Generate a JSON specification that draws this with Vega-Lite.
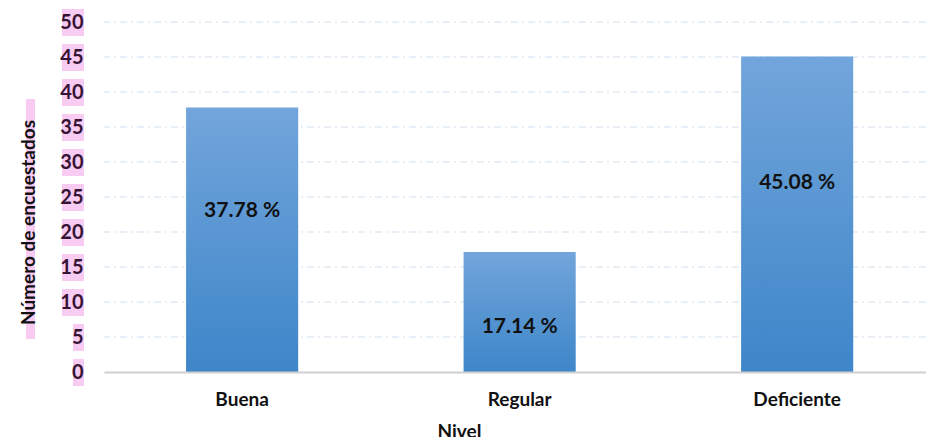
{
  "$schema": "https://vega.github.io/schema/vega-lite/v6.json",
  "width": 822,
  "height": 350,
  "autosize": {"type": "none"},
  "padding": {"left": 104, "top": 22, "right": 0, "bottom": 65},
  "background": "white",
  "config": {
    "view": {"stroke": null},
    "font": "Lato"
  },
  "datasets": {
    "bars": [
      {"nivel": "Buena", "valor": 37.78, "etiqueta": "37.78 %", "label_at": 23.0},
      {"nivel": "Regular", "valor": 17.14, "etiqueta": "17.14 %", "label_at": 6.4},
      {"nivel": "Deficiente", "valor": 45.08, "etiqueta": "45.08 %", "label_at": 27.0}
    ],
    "ticks": [
      {"t": 0}, {"t": 5}, {"t": 10}, {"t": 15}, {"t": 20}, {"t": 25},
      {"t": 30}, {"t": 35}, {"t": 40}, {"t": 45}, {"t": 50}
    ]
  },
  "layer": [
    {
      "data": {"name": "ticks"},
      "transform": [{"filter": "datum.t > 0"}],
      "mark": {"type": "rule", "color": "#cfdff0", "strokeWidth": 1, "strokeDash": [7, 4, 2, 4]},
      "encoding": {
        "y": {
          "field": "t",
          "type": "quantitative",
          "scale": {"domain": [0, 50], "nice": false},
          "axis": {
            "title": "Número de encuestados",
            "values": [0, 5, 10, 15, 20, 25, 30, 35, 40, 45, 50],
            "tickCount": 20,
            "labelOverlap": false,
            "zindex": 1,
            "domain": false,
            "ticks": false,
            "grid": false,
            "labelFont": "Lato",
            "labelFontSize": 20,
            "labelFontWeight": "bold",
            "labelColor": "#351433",
            "labelPadding": 21,
            "titleFont": "Lato",
            "titleFontSize": 19,
            "titleFontWeight": "bold",
            "titleColor": "#111111",
            "titleAngle": -90,
            "titleX": -70,
            "titleY": 200,
            "titleAlign": "center",
            "titleBaseline": "alphabetic"
          }
        }
      }
    },
    {
      "data": {"name": "ticks"},
      "transform": [{"filter": "datum.t >= 10"}],
      "mark": {"type": "rect", "color": "#f8cbf3", "yOffset": -13, "y2Offset": 14, "clip": false},
      "encoding": {
        "y": {"field": "t", "type": "quantitative"},
        "y2": {"field": "t"},
        "x": {"value": -42},
        "x2": {"value": -20}
      }
    },
    {
      "data": {"name": "ticks"},
      "transform": [{"filter": "datum.t < 10"}],
      "mark": {"type": "rect", "color": "#f8cbf3", "yOffset": -13, "y2Offset": 14, "clip": false},
      "encoding": {
        "y": {"field": "t", "type": "quantitative"},
        "y2": {"field": "t"},
        "x": {"value": -31},
        "x2": {"value": -20}
      }
    },
    {
      "data": {"values": [{"a": 39.0, "b": 4.7}]},
      "mark": {"type": "rect", "color": "#f8cbf3", "clip": false},
      "encoding": {
        "y": {"field": "a", "type": "quantitative"},
        "y2": {"field": "b"},
        "x": {"value": -78},
        "x2": {"value": -69}
      }
    },
    {
      "data": {"name": "bars"},
      "mark": {
        "type": "bar",
        "color": {
          "x1": 0, "y1": 0, "x2": 0, "y2": 1,
          "gradient": "linear",
          "stops": [
            {"offset": 0, "color": "#72a5db"},
            {"offset": 1, "color": "#3e86c9"}
          ]
        }
      },
      "encoding": {
        "x": {
          "field": "nivel",
          "type": "nominal",
          "sort": ["Buena", "Regular", "Deficiente"],
          "scale": {"paddingInner": 0.596, "paddingOuter": 0.279, "align": 0.53},
          "axis": {
            "title": "Nivel",
            "labelAngle": 0,
            "labelFont": "Lato",
            "labelFontSize": 19,
            "labelFontWeight": "bold",
            "labelColor": "#111111",
            "labelPadding": 18,
            "ticks": false,
            "domainColor": "#d0d0d0",
            "domainWidth": 2,
            "zindex": 1,
            "titleFont": "Lato",
            "titleFontSize": 19,
            "titleFontWeight": "bold",
            "titleColor": "#111111",
            "titleX": 355,
            "titleY": 65,
            "titleBaseline": "alphabetic"
          }
        },
        "y": {"field": "valor", "type": "quantitative"}
      }
    },
    {
      "data": {"name": "bars"},
      "mark": {"type": "text", "font": "Lato", "fontSize": 21, "fontWeight": "bold", "color": "#111111", "baseline": "middle"},
      "encoding": {
        "x": {"field": "nivel", "type": "nominal", "sort": ["Buena", "Regular", "Deficiente"]},
        "y": {"field": "label_at", "type": "quantitative"},
        "text": {"field": "etiqueta"}
      }
    }
  ]
}
